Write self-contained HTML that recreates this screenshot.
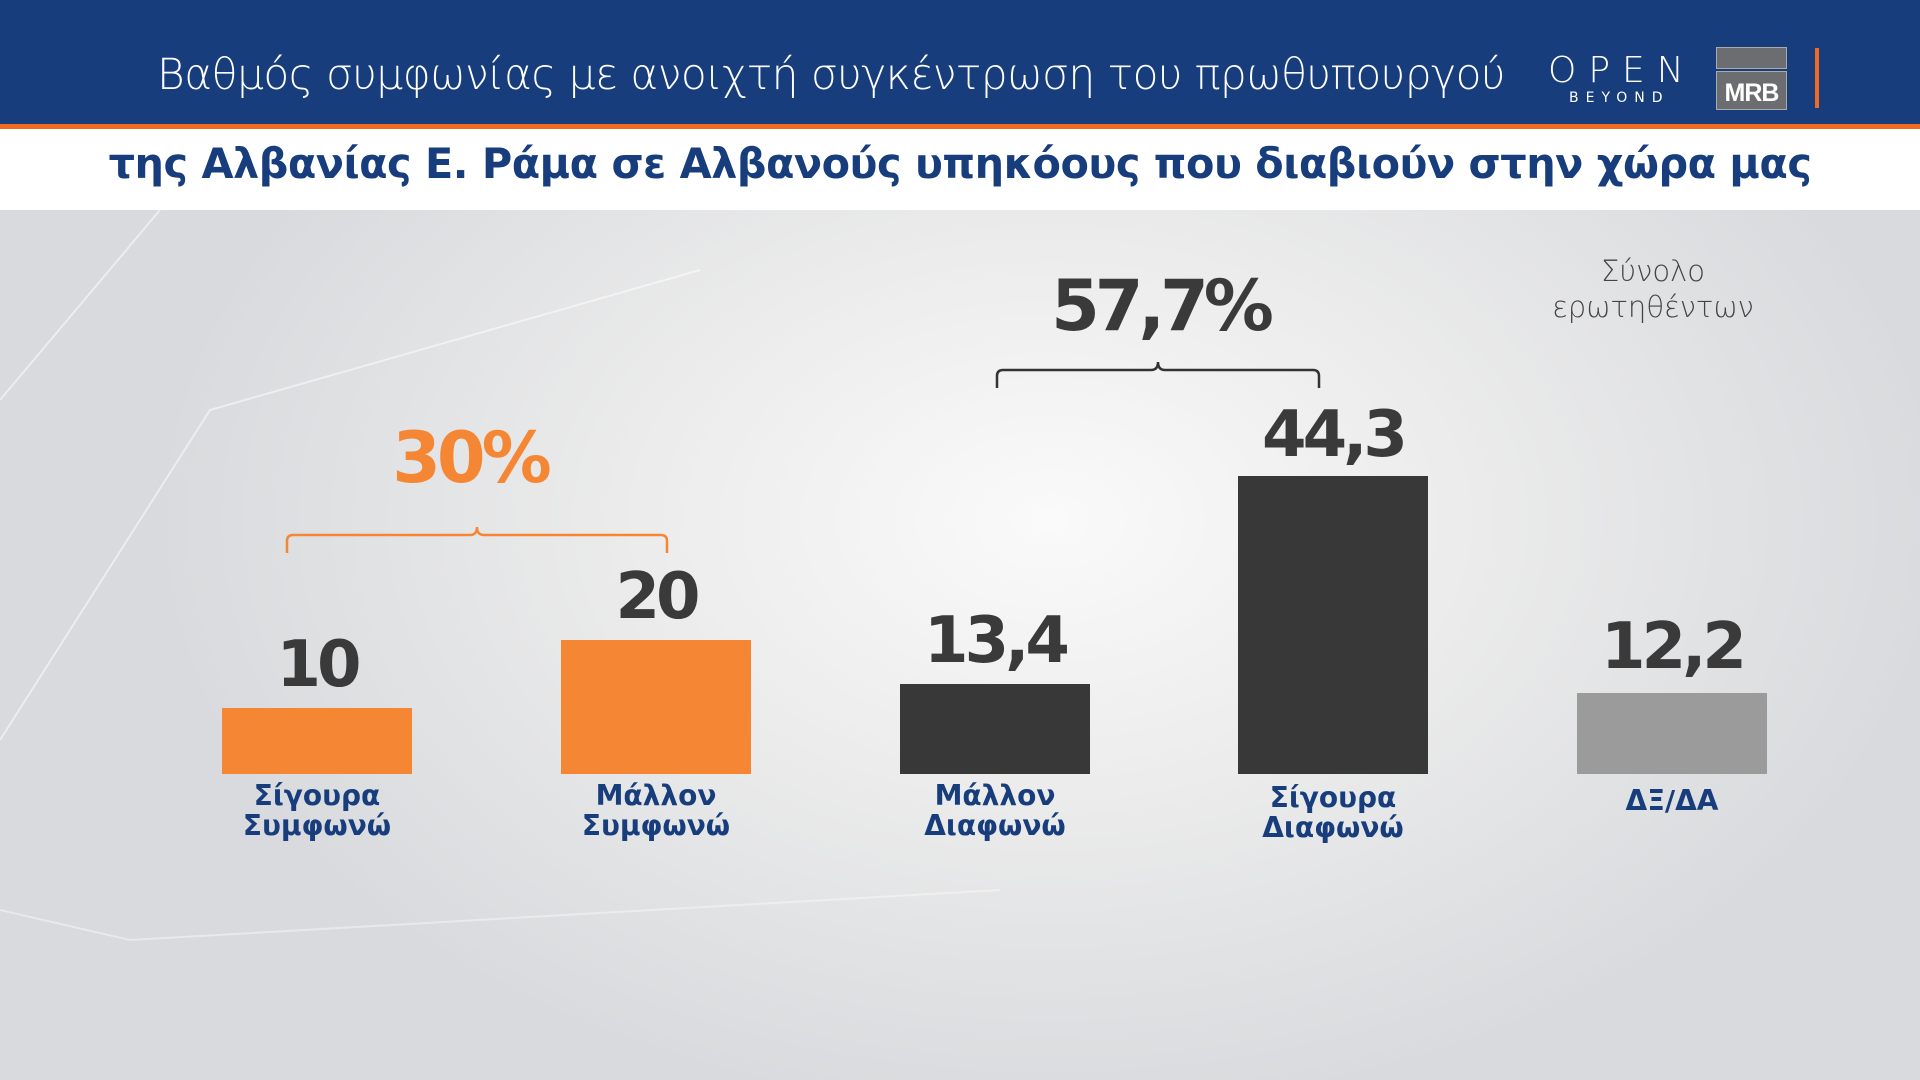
<!DOCTYPE html>
<html><head><meta charset="utf-8"><style>
html,body{margin:0;padding:0}
body{width:1920px;height:1080px;position:relative;overflow:hidden;font-family:"DejaVu Sans","Liberation Sans",sans-serif;
background:radial-gradient(ellipse 900px 600px at 1050px 520px,#fafafa 0%,#ececec 45%,#d8dadd 100%);}
.hdr{position:absolute;left:0;top:0;width:1920px;height:124px;background:#173d7c}
.ol{position:absolute;left:0;top:124px;width:1920px;height:5px;background:#f26a21}
.wb{position:absolute;left:0;top:129px;width:1920px;height:81px;background:#fff}
.t1{position:absolute;left:157px;top:50px;font-size:42.3px;color:#fff;font-family:"DejaVu Sans",sans-serif;font-weight:300;white-space:nowrap;letter-spacing:-0.5px}
.t2{position:absolute;left:0;width:1920px;text-align:center;top:140px;font-size:41.4px;font-weight:bold;color:#173d7c;white-space:nowrap;letter-spacing:-0.5px}
.bar{position:absolute;width:190px}
.v{position:absolute;width:300px;text-align:center;font-size:64px;font-weight:bold;color:#3a3a3a;letter-spacing:-4px}
.lb{position:absolute;width:300px;text-align:center;font-size:28px;font-weight:bold;color:#173d7c;line-height:30px}
</style></head><body>
<div class="hdr"></div><div class="ol"></div><div class="wb"></div>
<div class="t1">Βαθμός συμφωνίας με ανοιχτή συγκέντρωση του πρωθυπουργού</div>
<div style="position:absolute;left:1548px;top:50px;color:#fff;font-size:36px;letter-spacing:12px;font-weight:300">OPEN</div>
<div style="position:absolute;left:1569px;top:90px;color:#fff;font-size:14px;letter-spacing:7px">BEYOND</div>
<div style="position:absolute;left:1716px;top:47px;width:69px;height:20px;background:#6b6d70;border:1px solid #aaa"></div>
<div style="position:absolute;left:1716px;top:71px;width:69px;height:37px;background:#6b6d70;border:1px solid #aaa;color:#fff;font-family:'Liberation Sans',sans-serif;font-weight:bold;font-size:25px;text-align:center;line-height:42px;letter-spacing:-1px">MRB</div>
<div style="position:absolute;left:1815px;top:48px;width:4px;height:60px;background:#f26a21"></div>
<div class="t2">της Αλβανίας Ε. Ράμα σε Αλβανούς υπηκόους που διαβιούν στην χώρα μας</div>

<svg style="position:absolute;left:0;top:210px" width="1920" height="870">
<polyline points="0,190 160,0" stroke="#fff" stroke-opacity="0.5" fill="none" stroke-width="2"/>
<polyline points="0,530 210,200 700,60" stroke="#fff" stroke-opacity="0.5" fill="none" stroke-width="2"/>
<polyline points="0,700 130,730 1000,680" stroke="#fff" stroke-opacity="0.4" fill="none" stroke-width="2"/>
</svg>

<div style="position:absolute;left:0;width:940px;text-align:center;top:417px;font-size:70px;font-weight:bold;color:#f58634;letter-spacing:-4px">30%</div>
<svg style="position:absolute;left:0;top:0" width="1920" height="1080">
<path d="M287,553 V541 Q287,535 293,535 H470 Q477,535 477,527 Q477,535 484,535 H661 Q667,535 667,541 V553" fill="none" stroke="#f58634" stroke-width="2.5"/>
<path d="M997,388 V376 Q997,370 1003,370 H1151 Q1158,370 1158,362 Q1158,370 1165,370 H1313 Q1319,370 1319,376 V388" fill="none" stroke="#333" stroke-width="2.5"/>
</svg>
<div style="position:absolute;left:960px;width:400px;text-align:center;top:265px;font-size:70px;font-weight:bold;color:#3a3a3a;letter-spacing:-5px">57,7%</div>
<div style="position:absolute;left:1503px;width:300px;text-align:center;top:253px;font-size:29px;color:#444;line-height:36px;font-weight:300">Σύνολο<br>ερωτηθέντων</div>

<div class="bar" style="left:222px;top:708px;height:66px;background:#f58634"></div>
<div class="bar" style="left:561px;top:640px;height:134px;background:#f58634"></div>
<div class="bar" style="left:900px;top:684px;height:90px;background:#383838"></div>
<div class="bar" style="left:1238px;top:476px;height:298px;background:#383838"></div>
<div class="bar" style="left:1577px;top:693px;height:81px;background:#9b9b9b"></div>

<div class="v" style="left:167px;top:628px">10</div>
<div class="v" style="left:506px;top:560px">20</div>
<div class="v" style="left:845px;top:604px">13,4</div>
<div class="v" style="left:1183px;top:398px">44,3</div>
<div class="v" style="left:1522px;top:610px">12,2</div>

<div class="lb" style="left:167px;top:781px">Σίγουρα<br>Συμφωνώ</div>
<div class="lb" style="left:506px;top:781px">Μάλλον<br>Συμφωνώ</div>
<div class="lb" style="left:845px;top:781px">Μάλλον<br>Διαφωνώ</div>
<div class="lb" style="left:1183px;top:783px">Σίγουρα<br>Διαφωνώ</div>
<div class="lb" style="left:1522px;top:786px">ΔΞ/ΔΑ</div>
</body></html>
